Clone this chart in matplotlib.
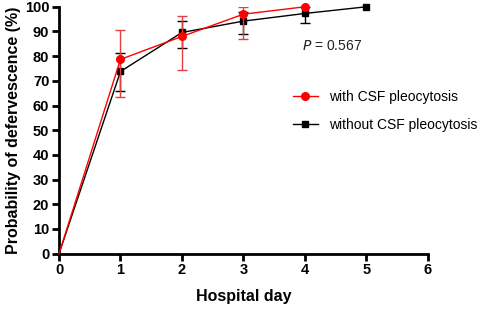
import matplotlib.pyplot as plt
import numpy as np
from matplotlib.lines import Line2D

plt.rcParams['font.family'] = ['Liberation Sans', 'DejaVu Sans']

# ====================== DATA ======================
days_with = [0, 1, 2, 3, 4]
prob_with = [0, 78.7, 88.0, 97.0, 100.0]
err_with_low = [0, 15.2, 13.5, 10.0, 0]
err_with_high = [0, 12.0, 8.2, 2.8, 0]

days_without = [0, 1, 2, 3, 4, 5]
prob_without = [0, 73.8, 89.6, 94.2, 97.3, 100.0]
err_without_low = [0, 8.0, 6.2, 5.2, 4.0, 0]
err_without_high = [0, 7.4, 4.6, 3.6, 2.7, 0]

x_ticks = [0, 1, 2, 3, 4, 5, 6]
y_ticks = list(range(0, 101, 10))

# ====================== PLOT ======================
fig = plt.figure(figsize=(4.89, 3.09), dpi=100)
ax = fig.add_axes([0.1207, 0.179, 0.754, 0.799])


def draw(days, prob, lo, hi, color, ecolor, marker, ms, z):
    ax.plot(days, prob, color=color, marker=marker, markersize=ms, linewidth=1,
            markevery=list(range(1, len(days))), zorder=z, clip_on=False)
    # error bars only where there is spread
    idx = [i for i in range(len(days)) if lo[i] > 0 or hi[i] > 0]
    ax.errorbar([days[i] for i in idx], [prob[i] for i in idx],
                yerr=[[lo[i] for i in idx], [hi[i] for i in idx]],
                fmt='none', ecolor=ecolor, elinewidth=1, capsize=3.5, capthick=1, zorder=z - 1)


draw(days_without, prob_without, err_without_low, err_without_high,
     'black', 'black', 's', 5, 3)
draw(days_with, prob_with, err_with_low, err_with_high,
     '#ff0000', '#e04040', 'o', 5.5, 5)

ax.set_xlim(0, 6)
ax.set_ylim(0, 100)
ax.set_xticks(x_ticks)
ax.set_yticks(y_ticks)
ax.spines['top'].set_visible(False)
ax.spines['right'].set_visible(False)
for s in ['left', 'bottom']:
    ax.spines[s].set_linewidth(2)
ax.tick_params(width=2, length=5, labelsize=10.5, pad=2)
for lab in ax.get_xticklabels() + ax.get_yticklabels():
    lab.set_fontweight('bold')

ax.set_xlabel('Hospital day', fontsize=11.5, fontweight='bold', labelpad=8)
ax.set_ylabel('Probability of defervescence (%)', fontsize=11.5, fontweight='bold', labelpad=3)

ax.text(3.95, 84.2, '$\\it{P}$ = 0.567', fontsize=10, va='center', ha='left', color='#222222')

handles = [
    Line2D([], [], color='#ff0000', marker='o', markersize=5.5, linewidth=1),
    Line2D([], [], color='black', marker='s', markersize=5, linewidth=1),
]
ax.legend(handles, ['with CSF pleocytosis', 'without CSF pleocytosis'],
          loc='upper left', bbox_to_anchor=(0.6, 0.715),
          frameon=False, fontsize=10, handlelength=1.8, labelspacing=1.0)

fig.savefig('out.png', dpi=100)
